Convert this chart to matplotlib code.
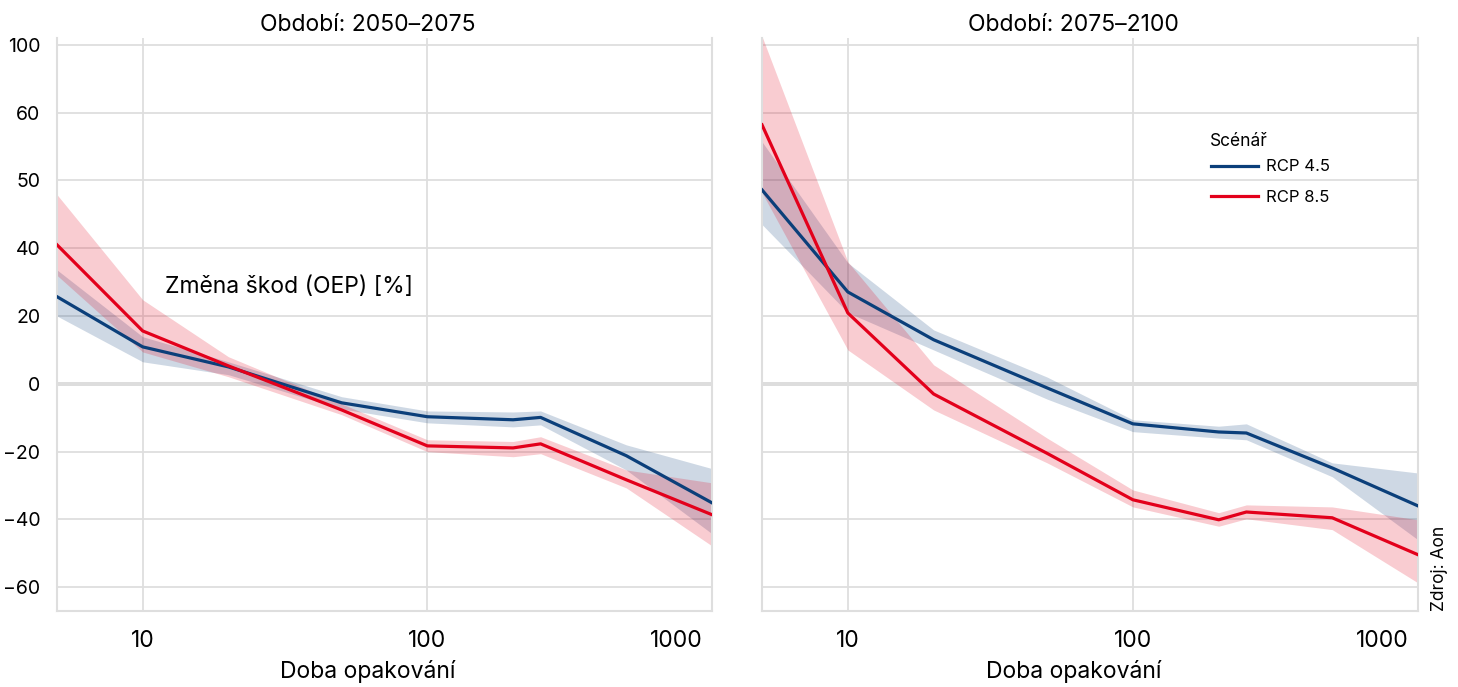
import numpy as np
import matplotlib.pyplot as plt
from matplotlib.transforms import ScaledTranslation

plt.rcParams['font.family'] = ['Inter', 'DejaVu Sans']

# return periods (years)
periods = [5, 10, 20, 50, 100, 200, 250, 500, 1000]

# Období 2050-2075
p1_rcp45 = [25.7, 10.9, 5.0, -5.6, -9.7, -10.6, -9.9, -21.2, -35.1]
p1_rcp45_lo = [20.0, 6.5, 2.7, -7.4, -11.5, -12.7, -12.1, -25.4, -44.2]
p1_rcp45_hi = [33.6, 13.9, 6.5, -3.8, -8.0, -8.3, -8.0, -18.0, -25.0]
p1_rcp85 = [40.5, 15.6, 5.3, -7.7, -18.3, -18.9, -17.7, -28.3, -38.6]
p1_rcp85_lo = [32.0, 9.4, 2.1, -9.1, -20.0, -21.5, -20.6, -30.7, -47.8]
p1_rcp85_hi = [47.9, 24.8, 8.0, -5.9, -16.5, -17.0, -15.6, -25.4, -29.2]

# Období 2075-2100
p2_rcp45 = [48.6, 27.1, 13.0, -1.2, -11.8, -14.2, -14.5, -24.8, -36.0]
p2_rcp45_lo = [43.5, 21.0, 10.0, -4.5, -14.1, -16.0, -16.5, -27.4, -46.0]
p2_rcp45_hi = [55.7, 35.7, 15.9, 2.0, -10.6, -12.5, -11.8, -23.3, -26.3]
p2_rcp85 = [58.2, 20.9, -3.0, -20.5, -34.2, -40.1, -37.8, -39.5, -50.4]
p2_rcp85_lo = [48.2, 10.0, -7.7, -23.3, -36.3, -42.0, -39.8, -43.0, -58.7]
p2_rcp85_hi = [105.0, 36.0, 5.6, -16.0, -31.3, -38.0, -35.7, -36.3, -40.1]

yticks = [-60, -40, -20, 0, 20, 40, 50, 60, 100]
xticks = [10, 100, 1000]

BLUE = '#0b3f7a'
RED = '#e3001b'
GRID = '#dedede'


# the value axis is stretched between 40 and 60 and squeezed above 60
def fwd(v):
    return np.interp(v, [-200, 40, 50, 60, 200], [-200, 40, 60, 80, 150])


def inv(u):
    return np.interp(u, [-200, 40, 60, 80, 150], [-200, 40, 50, 60, 200])


fig = plt.figure(figsize=(14.58, 6.87), dpi=100)
ax1 = fig.add_axes([57 / 1458, 76 / 687, 655 / 1458, 573 / 687])
ax2 = fig.add_axes([762 / 1458, 76 / 687, 656 / 1458, 573 / 687])

panels = [
    (ax1, 'Období: 2050–2075', p1_rcp45, p1_rcp45_lo, p1_rcp45_hi, p1_rcp85, p1_rcp85_lo, p1_rcp85_hi),
    (ax2, 'Období: 2075–2100', p2_rcp45, p2_rcp45_lo, p2_rcp45_hi, p2_rcp85, p2_rcp85_lo, p2_rcp85_hi),
]

for ax, title, b, blo, bhi, r, rlo, rhi in panels:
    ax.set_xscale('log')
    ax.set_yscale('function', functions=(fwd, inv))
    ax.fill_between(periods, blo, bhi, color=BLUE, alpha=0.2, lw=0, zorder=2)
    ax.fill_between(periods, rlo, rhi, color=RED, alpha=0.2, lw=0, zorder=2)
    ax.plot(periods, b, color=BLUE, lw=2.3, label='RCP 4.5', zorder=3)
    ax.plot(periods, r, color=RED, lw=2.3, label='RCP 8.5', zorder=3)

    ax.set_xlim(5, 1000)
    ax.set_ylim(-67, 104)
    ax.set_xticks(xticks)
    ax.set_xticklabels([str(t) for t in xticks])
    ax.xaxis.set_minor_locator(plt.NullLocator())
    ax.set_yticks(yticks)
    ax.set_yticklabels(['−' + str(-t) if t < 0 else str(t) for t in yticks])
    ax.yaxis.set_minor_locator(plt.NullLocator())

    ax.grid(True, color=GRID, lw=1.3, zorder=0)
    ax.axhline(0, color='#d6d6d6', lw=2.6, zorder=1)
    ax.spines['top'].set_visible(False)
    for s in ['left', 'right', 'bottom']:
        ax.spines[s].set_color(GRID)
        ax.spines[s].set_linewidth(1.5)
    ax.tick_params(axis='both', length=0)
    ax.tick_params(axis='x', labelsize=16.5, pad=14)
    ax.tick_params(axis='y', labelsize=14, pad=12)

    ax.set_title(title, fontsize=16.5, x=0.475, pad=5)
    ax.set_xlabel('Doba opakování', fontsize=16.5)
    ax.xaxis.set_label_coords(0.475, -0.085)

    # last tick label sits inside the right edge
    lab = ax.get_xticklabels()[-1]
    lab.set_horizontalalignment('right')
    lab.set_transform(lab.get_transform() + ScaledTranslation(-9 / 100, 0, fig.dpi_scale_trans))

ax2.tick_params(axis='y', labelleft=False)

fig.text(165 / 1458, 1 - 287 / 687, 'Změna škod (OEP) [%]', fontsize=16.5, va='center', ha='left')

ax2.legend(loc='upper left', bbox_to_anchor=((1203 - 762) / 656, (611 - 151) / 573),
           frameon=False, fontsize=12, handlelength=2.8,
           handletextpad=0.5, labelspacing=0.95, borderpad=0)
fig.text(1210 / 1458, 1 - 142 / 687, 'Scénář', fontsize=12.5, va='center', ha='left')

fig.text(1440 / 1458, 76 / 687, 'Zdroj: Aon', rotation=90, fontsize=12.5, ha='center', va='bottom')

fig.savefig('out.png', dpi=100)
